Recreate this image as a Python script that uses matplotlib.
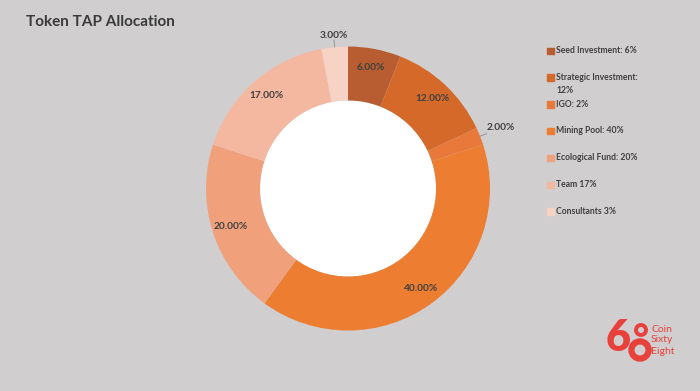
import numpy as np
import matplotlib.pyplot as plt
from matplotlib.patches import Rectangle, Ellipse, Circle

plt.rcParams['font.family'] = ['Lato', 'DejaVu Sans']

categories = ['Seed Investment', 'Strategic Investment', 'IGO', 'Mining Pool',
              'Ecological Fund', 'Team', 'Consultants']
shares = [6, 12, 2, 40, 20, 17, 3]
legend_labels = ['Seed Investment: 6%', 'Strategic Investment:\n12%', 'IGO: 2%',
                 'Mining Pool: 40%', 'Ecological Fund: 20%', 'Team 17%', 'Consultants 3%']
colors = ['#b75d31', '#d4692a', '#e8793a', '#ed7d31', '#f0a17c', '#f4b8a1', '#f7d3c6']
outside = {'IGO': 1.16, 'Consultants': 1.085}

W, H = 700, 391
bg = '#d0cecf'
fig = plt.figure(figsize=(W / 100, H / 100), dpi=100, facecolor=bg)

# pie axes, placed so radius 1 = 142 px around (348, 188.5)
cx, cy, R = 348, 188.5, 142
half = 1.3 * R
ax = fig.add_axes([(cx - half) / W, (H - cy - half) / H, 2 * half / W, 2 * half / H])
ax.set_facecolor(bg)
wedges, _ = ax.pie(shares, colors=colors, startangle=90, counterclock=False,
                   wedgeprops=dict(width=0.38, edgecolor='none'))
ax.add_patch(Circle((0, 0), 0.62, facecolor='white', edgecolor='none', zorder=0.5))
ax.set_xlim(-1.3, 1.3)
ax.set_ylim(-1.3, 1.3)
ax.axis('off')

total = sum(shares)
start = 90.0
for name, val in zip(categories, shares):
    mid = np.deg2rad(start - val / total * 360 / 2)
    start -= val / total * 360
    txt = f'{val:.2f}%'
    if name in outside:
        r = outside[name]
        ax.plot([1.0 * np.cos(mid), 1.05 * np.cos(mid)],
                [1.0 * np.sin(mid), 1.05 * np.sin(mid)], color='#8c8c8c', lw=0.6)
    else:
        r = 0.87
    ax.text(r * np.cos(mid), r * np.sin(mid), txt, ha='center', va='center',
            fontsize=7.3, fontweight='bold', color='#404040')

fig.text(26 / W, 1 - 22 / H, 'Token TAP Allocation', fontsize=11, fontweight='bold',
         color='#3a3a3a', ha='left', va='center')

# legend
for i, (lab, col) in enumerate(zip(legend_labels, colors)):
    y = 51 + i * 26.8
    fig.patches.append(Rectangle((547 / W, 1 - (y + 3) / H), 6.5 / W, 6.5 / H,
                                 transform=fig.transFigure, color=col))
    fig.text(556 / W, 1 - (y - 5) / H, lab, fontsize=6.2, fontweight='bold',
             color='#404040', ha='left', va='top', linespacing=1.6)

# logo
red = '#e8413c'
fig.text(618 / W, 1 - 338 / H, '6', fontsize=31, fontweight='heavy', color=red,
         ha='center', va='center')
for (x, y, r, lw) in [(641, 330, 5, 2.8), (640, 350, 8.6, 4.5)]:
    fig.patches.append(Ellipse((x / W, 1 - y / H), 2 * r / W, 2 * r / H,
                               transform=fig.transFigure, fill=False,
                               edgecolor=red, lw=lw))
for k, word in enumerate(['Coin', 'Sixty', 'Eight']):
    fig.text(651 / W, 1 - (329 + k * 11) / H, word, fontsize=7.5, color=red,
             ha='left', va='center')

fig.savefig('out.png', dpi=100, facecolor=bg)
